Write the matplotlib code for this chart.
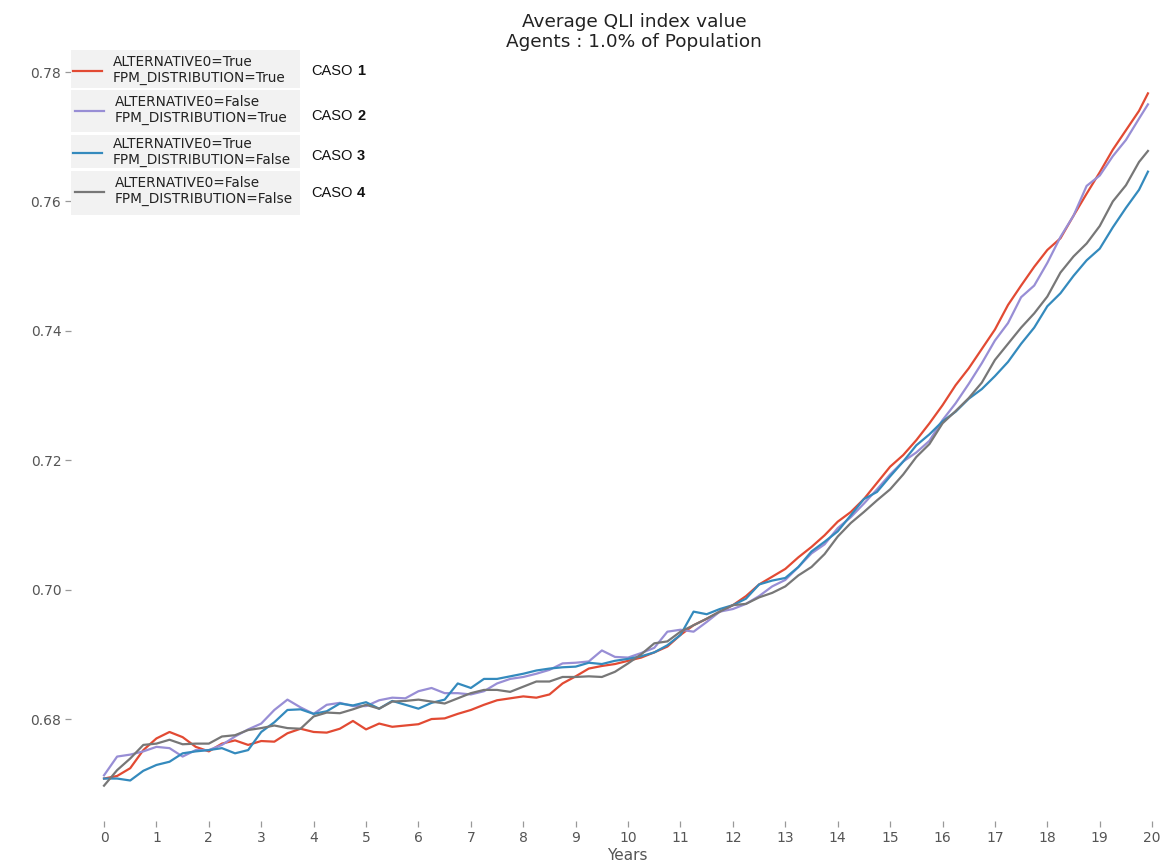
import matplotlib
matplotlib.use("Agg")
import matplotlib.pyplot as plt
from matplotlib.patches import Rectangle

# ---------------- data ----------------
years = [0.0, 0.25, 0.5, 0.75, 1.0, 1.25, 1.5, 1.75, 2.0, 2.25, 2.5, 2.75,
         3.0, 3.25, 3.5, 3.75, 4.0, 4.25, 4.5, 4.75, 5.0, 5.25, 5.5, 5.75,
         6.0, 6.25, 6.5, 6.75, 7.0, 7.25, 7.5, 7.75, 8.0, 8.25, 8.5, 8.75,
         9.0, 9.25, 9.5, 9.75, 10.0, 10.25, 10.5, 10.75, 11.0, 11.25, 11.5, 11.75,
         12.0, 12.25, 12.5, 12.75, 13.0, 13.25, 13.5, 13.75, 14.0, 14.25, 14.5, 14.75,
         15.0, 15.25, 15.5, 15.75, 16.0, 16.25, 16.5, 16.75, 17.0, 17.25, 17.5, 17.75,
         18.0, 18.25, 18.5, 18.75, 19.0, 19.25, 19.5, 19.75, 19.92]

caso1 = [0.6708, 0.6712, 0.6724, 0.6752, 0.6770, 0.6780, 0.6772, 0.6757, 0.6750, 0.6762, 0.6767, 0.6760,
         0.6766, 0.6765, 0.6778, 0.6785, 0.6780, 0.6779, 0.6785, 0.6797, 0.6784, 0.6793, 0.6788, 0.6790,
         0.6792, 0.6800, 0.6801, 0.6808, 0.6814, 0.6822, 0.6829, 0.6832, 0.6835, 0.6833, 0.6838, 0.6855,
         0.6866, 0.6878, 0.6882, 0.6885, 0.6890, 0.6895, 0.6903, 0.6912, 0.6930, 0.6945, 0.6955, 0.6966,
         0.6976, 0.6990, 0.7008, 0.7020, 0.7032, 0.7050, 0.7066, 0.7084, 0.7105, 0.7120, 0.7140, 0.7165,
         0.7190, 0.7208, 0.7231, 0.7257, 0.7285, 0.7316, 0.7342, 0.7372, 0.7402, 0.7440, 0.7470, 0.7499,
         0.7525, 0.7543, 0.7578, 0.7612, 0.7645, 0.7680, 0.7710, 0.7740, 0.7767]

caso2 = [0.6713, 0.6742, 0.6745, 0.6750, 0.6757, 0.6755, 0.6742, 0.6752, 0.6752, 0.6760, 0.6773, 0.6784,
         0.6793, 0.6814, 0.6830, 0.6818, 0.6808, 0.6822, 0.6825, 0.6820, 0.6820, 0.6829, 0.6833, 0.6832,
         0.6843, 0.6848, 0.6840, 0.6840, 0.6838, 0.6843, 0.6855, 0.6862, 0.6865, 0.6870, 0.6876, 0.6886,
         0.6887, 0.6889, 0.6906, 0.6896, 0.6895, 0.6902, 0.6910, 0.6935, 0.6938, 0.6935, 0.6950, 0.6966,
         0.6970, 0.6978, 0.6990, 0.7005, 0.7015, 0.7035, 0.7056, 0.7070, 0.7095, 0.7112, 0.7133, 0.7155,
         0.7178, 0.7198, 0.7212, 0.7230, 0.7262, 0.7288, 0.7318, 0.7350, 0.7385, 0.7412, 0.7452, 0.7470,
         0.7505, 0.7545, 0.7578, 0.7624, 0.7640, 0.7670, 0.7695, 0.7728, 0.7750]

caso3 = [0.6708, 0.6708, 0.6705, 0.6720, 0.6729, 0.6734, 0.6747, 0.6750, 0.6752, 0.6755, 0.6747, 0.6752,
         0.6780, 0.6795, 0.6814, 0.6815, 0.6808, 0.6812, 0.6824, 0.6821, 0.6826, 0.6816, 0.6828, 0.6822,
         0.6816, 0.6825, 0.6830, 0.6855, 0.6848, 0.6862, 0.6862, 0.6866, 0.6870, 0.6875, 0.6878, 0.6880,
         0.6881, 0.6887, 0.6885, 0.6890, 0.6893, 0.6897, 0.6903, 0.6914, 0.6930, 0.6966, 0.6962, 0.6970,
         0.6976, 0.6986, 0.7008, 0.7014, 0.7018, 0.7035, 0.7059, 0.7074, 0.7090, 0.7115, 0.7140, 0.7151,
         0.7175, 0.7198, 0.7223, 0.7240, 0.7260, 0.7275, 0.7295, 0.7310, 0.7330, 0.7352, 0.7380, 0.7405,
         0.7438, 0.7458, 0.7485, 0.7509, 0.7527, 0.7560, 0.7590, 0.7618, 0.7646]

caso4 = [0.6697, 0.6721, 0.6739, 0.6760, 0.6762, 0.6768, 0.6761, 0.6762, 0.6762, 0.6773, 0.6775, 0.6783,
         0.6786, 0.6790, 0.6786, 0.6785, 0.6804, 0.6810, 0.6809, 0.6815, 0.6822, 0.6816, 0.6827, 0.6828,
         0.6830, 0.6827, 0.6824, 0.6832, 0.6840, 0.6845, 0.6845, 0.6842, 0.6850, 0.6858, 0.6858, 0.6865,
         0.6865, 0.6866, 0.6865, 0.6873, 0.6886, 0.6900, 0.6917, 0.6920, 0.6935, 0.6945, 0.6955, 0.6966,
         0.6976, 0.6978, 0.6988, 0.6995, 0.7005, 0.7022, 0.7035, 0.7055, 0.7082, 0.7103, 0.7120, 0.7138,
         0.7155, 0.7178, 0.7205, 0.7225, 0.7257, 0.7276, 0.7296, 0.7320, 0.7355, 0.7380, 0.7405, 0.7427,
         0.7453, 0.7490, 0.7515, 0.7535, 0.7562, 0.7600, 0.7625, 0.7661, 0.7678]

series = [caso1, caso2, caso3, caso4]
colors = ["#E24A33", "#988ED5", "#348ABD", "#777777"]
legend_labels = ["ALTERNATIVE0=True\nFPM_DISTRIBUTION=True",
                 "ALTERNATIVE0=False\nFPM_DISTRIBUTION=True",
                 "ALTERNATIVE0=True\nFPM_DISTRIBUTION=False",
                 "ALTERNATIVE0=False\nFPM_DISTRIBUTION=False"]
caso_numbers = ["1", "2", "3", "4"]
x_ticks = list(range(0, 21))
y_ticks = [0.68, 0.70, 0.72, 0.74, 0.76, 0.78]
title_text = "Average QLI index value\nAgents : 1.0% of Population"
x_label = "Years"

# ---------------- figure ----------------
W, H = 1163, 864
fig = plt.figure(figsize=(W / 100, H / 100), dpi=100)
fig.patch.set_facecolor("white")


def fx(px):
    return px / W


def fy(py):
    return 1 - py / H


ax_left, ax_right, ax_top, ax_bottom = 71, 1160, 40, 821
ax = fig.add_axes([fx(ax_left), fy(ax_bottom), (ax_right - ax_left) / W, (ax_bottom - ax_top) / H])
ax.set_facecolor("white")
for s in ax.spines.values():
    s.set_visible(False)

lines = []
for vals, c in zip(series, colors):
    ln, = ax.plot(years, vals, color=c, lw=1.6, solid_joinstyle="round")
    lines.append(ln)

ax.set_xlim(-0.63, 20.15)
ax.set_ylim(0.66424, 0.78495)
ax.set_xticks(x_ticks)
ax.set_yticks(y_ticks)
ax.set_yticklabels([f"{v:.2f}" for v in y_ticks])
ax.tick_params(axis="both", direction="out", length=4, width=0.9, color="#999999",
               labelcolor="#555555", labelsize=10, pad=3)
ax.grid(False)

fig.text(fx(627), fy(856), x_label, ha="center", va="center", fontsize=11, color="#555555")
fig.text(fx(634), fy(13), title_text, ha="center", va="top", fontsize=13.3, color="#222222",
         linespacing=1.15)

# ---------------- legend (one box per case) ----------------
boxes = [(50, 88), (90, 132), (135, 168), (171, 215)]
handle_x = [73, 75, 73, 75]
centers = [70, 110, 152, 191]
caso_y = [71, 116, 156, 193]
for i in range(4):
    y0, y1 = boxes[i]
    fig.patches.append(Rectangle((fx(71), fy(y1)), (300 - 71) / W, (y1 - y0) / H,
                                 transform=fig.transFigure, facecolor="#F2F2F2",
                                 edgecolor="none", zorder=1))
    leg = fig.legend([lines[i]], [legend_labels[i]], loc="center left",
                     bbox_to_anchor=(fx(handle_x[i]), fy(centers[i])),
                     bbox_transform=fig.transFigure, frameon=False,
                     borderpad=0, borderaxespad=0, handlelength=2.15,
                     handletextpad=0.75, fontsize=9.8)
    for t in leg.get_texts():
        t.set_color("#222222")
        t.set_linespacing(1.15)
    leg.set_zorder(5)
    fig.text(fx(311), fy(caso_y[i]), "CASO", ha="left", va="center", fontsize=10.5,
             family="Liberation Sans", color="#111111")
    fig.text(fx(357), fy(caso_y[i]), caso_numbers[i], ha="left", va="center", fontsize=10.5,
             family="Liberation Sans", fontweight="bold", color="#111111")

fig.savefig("out.png", dpi=100, facecolor="white")
